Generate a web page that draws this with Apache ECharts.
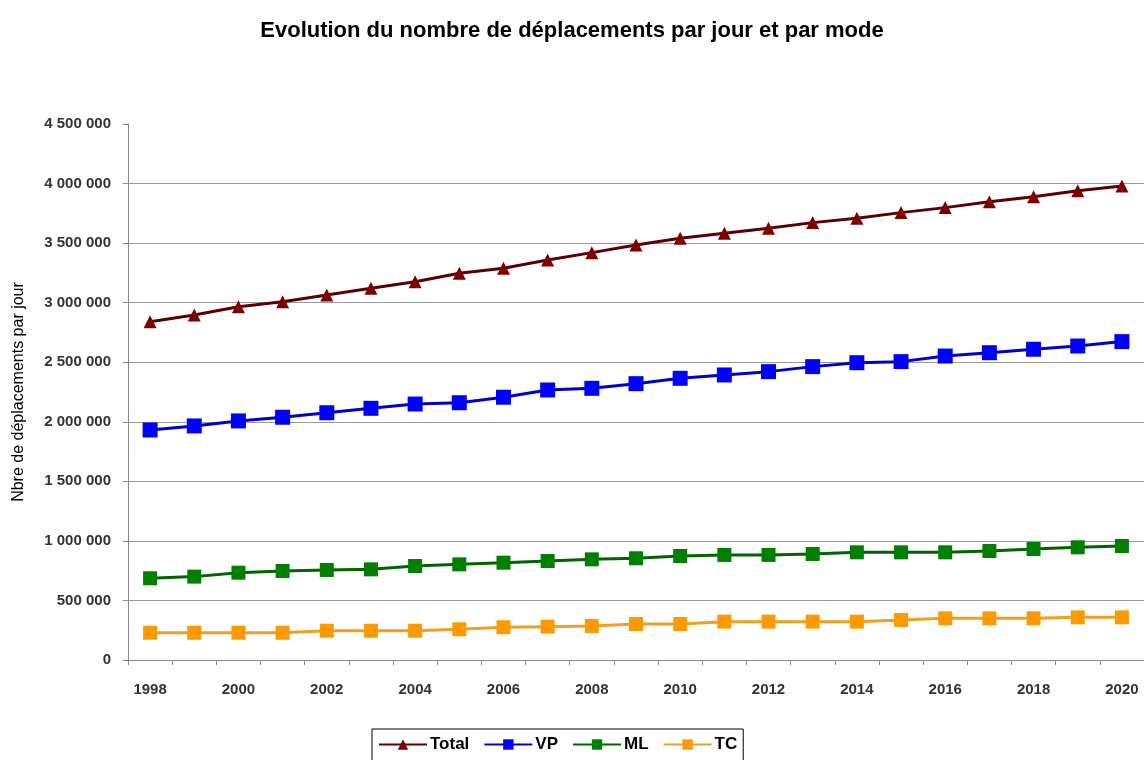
<!DOCTYPE html>
<html>
<head>
<meta charset="utf-8">
<script src="https://cdn.jsdelivr.net/npm/echarts@6/dist/echarts.min.js"></script>
<style>
html,body{margin:0;padding:0;background:#fff;}
#chart{width:1144px;height:760px;}
</style>
</head>
<body>
<div id="chart"></div>
<script>
var years = ['1998','1999','2000','2001','2002','2003','2004','2005','2006','2007','2008','2009','2010','2011','2012','2013','2014','2015','2016','2017','2018','2019','2020'];
var total = [2840000,2897000,2966000,3008000,3065000,3121000,3176000,3247000,3289000,3358000,3420000,3484000,3541000,3582000,3625000,3672000,3708000,3756000,3798000,3848000,3890000,3940000,3980000];
var vp = [1931000,1965000,2007000,2038000,2076000,2113000,2149000,2160000,2206000,2267000,2281000,2320000,2365000,2393000,2421000,2463000,2496000,2505000,2552000,2580000,2609000,2636000,2673000];
var ml = [686000,700000,733000,747000,756000,761000,789000,803000,817000,831000,845000,854000,873000,882000,882000,890000,904000,904000,904000,915000,932000,946000,957000];
var tc = [229000,229000,229000,229000,246000,246000,246000,258000,275000,280000,285000,302000,302000,322000,322000,322000,322000,336000,350000,350000,350000,358000,358000];

var titleText = 'Evolution du nombre de déplacements par jour et par mode';
var yAxisName = 'Nbre de déplacements par jour';

function fmt(v){
  return String(v).replace(/\B(?=(\d{3})+(?!\d))/g, ' ');
}

var chart = echarts.init(document.getElementById('chart'), null, {renderer:'canvas'});
var font = 'Liberation Sans, Arial, sans-serif';

function mk(name, data, color, symbol, size, lineColor){
  return {
    name: name, type: 'line', data: data,
    symbol: symbol, symbolSize: size,
    showAllSymbol: true,
    lineStyle: {color: lineColor || color, width: 3},
    itemStyle: {color: color},
    emphasis: {disabled: true},
    animation: false
  };
}

chart.setOption({
  backgroundColor: '#fff',
  animation: false,
  title: {
    text: titleText, left: 'center', top: 15,
    textStyle: {fontFamily: font, fontSize: 22, fontWeight: 'bold', color: '#000'}
  },
  legend: {
    top: 729, left: 372,
    data: ['Total','VP','ML','TC'],
    borderColor: '#000', borderWidth: 1,
    padding: [7, 6, 12, 6],
    itemWidth: 48, itemHeight: 13, itemGap: 14,
    textStyle: {fontFamily: font, fontSize: 17, fontWeight: 'bold', color: '#000', padding: [0,0,0,-2]}
  },
  grid: {left: 128, top: 124, width: 1019, bottom: 100, containLabel: false},
  xAxis: {
    type: 'category', data: years, boundaryGap: true,
    axisLine: {lineStyle: {color: '#888', width: 1}},
    axisTick: {show: true, interval: 0, inside: false, length: 5, lineStyle: {color: '#888'}},
    axisLabel: {interval: 1, margin: 22, fontFamily: font, fontSize: 15, fontWeight: 'bold', color: '#333'},
    splitLine: {show: false}
  },
  yAxis: {
    type: 'value', min: 0, max: 4500000, interval: 500000,
    name: yAxisName, nameLocation: 'middle', nameGap: 101, nameRotate: 90,
    nameTextStyle: {fontFamily: font, fontSize: 16, color: '#000'},
    axisLine: {show: true, lineStyle: {color: '#888', width: 1}},
    axisTick: {show: true, length: 5, lineStyle: {color: '#888'}},
    axisLabel: {formatter: fmt, margin: 17, fontFamily: font, fontSize: 15, fontWeight: 'bold', color: '#333'},
    splitLine: {show: true, showMinLine: false, showMaxLine: false, lineStyle: {color: '#999', width: 1}}
  },
  series: [
    mk('Total', total, '#800000', 'triangle', 13, '#5a0000'),
    mk('VP', vp, '#0000ff', 'rect', 15, '#0000cc'),
    mk('ML', ml, '#007f00', 'rect', 14, '#006400'),
    mk('TC', tc, '#ff9900', 'rect', 14, '#f0a020')
  ]
});
</script>
</body>
</html>
